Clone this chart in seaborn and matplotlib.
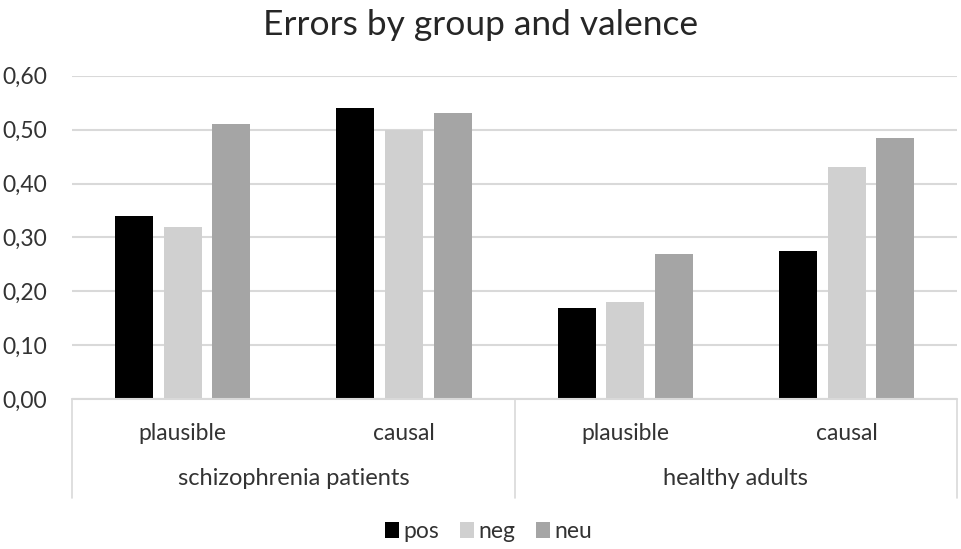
import pandas as pd
import matplotlib.pyplot as plt
import matplotlib.ticker as mticker
import matplotlib.transforms as mtransforms
from matplotlib.patches import Patch
import seaborn as sns

# --- DATA ---
groups = ['schizophrenia patients', 'healthy adults']
conditions = ['plausible', 'causal', 'plausible', 'causal']
cell_group = ['schizophrenia patients', 'schizophrenia patients', 'healthy adults', 'healthy adults']
valences = ['pos', 'neg', 'neu']
pos = [0.34, 0.54, 0.17, 0.275]
neg = [0.32, 0.50, 0.18, 0.43]
neu = [0.51, 0.53, 0.27, 0.485]
yticks = [0.0, 0.1, 0.2, 0.3, 0.4, 0.5, 0.6]

colors = {'pos': '#000000', 'neg': '#d0d0d0', 'neu': '#a5a5a5'}

# --- SETUP ---
sns.set_theme(style="white")
plt.rcParams['font.family'] = ['Lato', 'DejaVu Sans']

rows = []
for i, (g, c) in enumerate(zip(cell_group, conditions)):
    for v, vals in zip(valences, [pos, neg, neu]):
        rows.append({'cell': f'{g}|{c}', 'valence': v, 'value': vals[i]})
df = pd.DataFrame(rows)
order = [f'{g}|{c}' for g, c in zip(cell_group, conditions)]

fig = plt.figure(figsize=(9.62, 5.49), dpi=100)
ax = fig.add_axes([0.075, 0.273, 0.920, 0.589])

sns.barplot(data=df, x='cell', y='value', hue='valence', order=order,
            hue_order=valences, palette=colors, width=0.66, gap=0.22,
            edgecolor='none', ax=ax, legend=False)

ax.set_ylim(0, 0.6)
ax.set_xlim(-0.5, 3.5)
ax.set_yticks(yticks)
ax.yaxis.set_major_formatter(mticker.FuncFormatter(lambda x, _: f'{x:.2f}'.replace('.', ',')))
ax.tick_params(axis='y', length=0, labelsize=16.5, labelcolor='#333333', pad=18)
ax.set_xticks([])
ax.set_xlabel('')
ax.set_ylabel('')
ax.grid(axis='y', color='#d9d9d9', linewidth=1.5)
ax.set_axisbelow(True)
for s in ax.spines.values():
    s.set_visible(False)

# multi-level category axis
trans = mtransforms.blended_transform_factory(ax.transData, ax.transAxes)
ax.plot([-0.5, 3.5], [0, 0], transform=trans, color='#d9d9d9', lw=1.5, clip_on=False)
for x in [-0.5, 1.5, 3.5]:
    ax.plot([x, x], [0, -0.305], transform=trans, color='#d9d9d9', lw=1.2, clip_on=False)
for i, c in enumerate(conditions):
    ax.text(i, -0.105, c, transform=trans, ha='center', va='center',
            fontsize=16.5, color='#333333')
for i, g in enumerate(groups):
    ax.text(0.5 + 2 * i, -0.245, g, transform=trans, ha='center', va='center',
            fontsize=17, color='#333333')

fig.text(0.5, 0.955, 'Errors by group and valence', ha='center', va='center',
         fontsize=25.5, color='#262626')

handles = [Patch(facecolor=colors[v], edgecolor='none', label=v) for v in valences]
fig.legend(handles=handles, loc='center', bbox_to_anchor=(0.508, 0.031), ncol=3,
           frameon=False, fontsize=16.5, handlelength=0.6, handleheight=0.7,
           handletextpad=0.2, columnspacing=0.9, labelcolor='#333333')

plt.savefig('out.png', dpi=100)
plt.close()
